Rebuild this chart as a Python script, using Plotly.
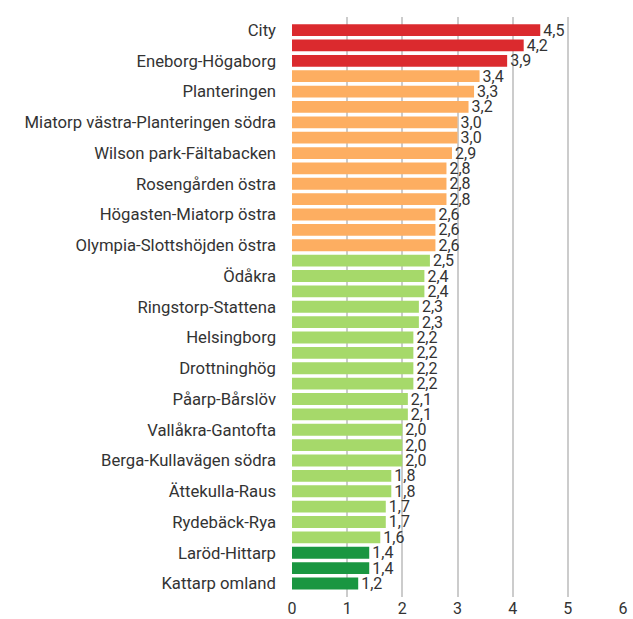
import plotly.graph_objects as go

categories = [
    "City", "Tågaborg", "Eneborg-Högaborg", "Slottshöjden", "Planteringen",
    "Gustavslund", "Miatorp västra-Planteringen södra", "Husensjö",
    "Wilson park-Fältabacken", "Fredriksdal", "Rosengården östra", "Dalhem",
    "Högasten-Miatorp östra", "Närlunda", "Olympia-Slottshöjden östra",
    "Mariastaden", "Ödåkra", "Elineberg", "Ringstorp-Stattena", "Råå",
    "Helsingborg", "Adolfsberg", "Drottninghög", "Gantofta", "Påarp-Bårslöv",
    "Bårslöv", "Vallåkra-Gantofta", "Ödåkra norra", "Berga-Kullavägen södra",
    "Raus", "Ättekulla-Raus", "Rydebäck", "Rydebäck-Rya", "Allerum",
    "Laröd-Hittarp", "Hittarp", "Kattarp omland",
]
values = [
    4.5, 4.2, 3.9, 3.4, 3.3, 3.2, 3.0, 3.0, 2.9, 2.8, 2.8, 2.8, 2.6, 2.6, 2.6,
    2.5, 2.4, 2.4, 2.3, 2.3, 2.2, 2.2, 2.2, 2.2, 2.1, 2.1, 2.0, 2.0, 2.0,
    1.8, 1.8, 1.7, 1.7, 1.6, 1.4, 1.4, 1.2,
]
groups = [0] * 3 + [1] * 12 + [2] * 19 + [3] * 3
group_colors = ["#db2a2e", "#fdae61", "#a6d96a", "#1a9641"]
shown_labels = categories[::2]
x_ticks = [0, 1, 2, 3, 4, 5, 6]

colors = [group_colors[g] for g in groups]
texts = [f"{v:.1f}".replace(".", ",") for v in values]

FONT = "Roboto"
TEXT_COLOR = "#333333"

fig = go.Figure(
    go.Bar(
        x=values,
        y=categories,
        orientation="h",
        marker=dict(color=colors, line=dict(width=0)),
        text=texts,
        textposition="outside",
        constraintext="none",
        textfont=dict(family=FONT, size=16, color=TEXT_COLOR),
        cliponaxis=False,
        hoverinfo="skip",
    )
)

fig.update_layout(
    width=633,
    height=619,
    margin=dict(l=292, r=10, t=17, b=22, autoexpand=False),
    plot_bgcolor="white",
    paper_bgcolor="white",
    bargap=0.23,
    showlegend=False,
    font=dict(family=FONT, size=16, color=TEXT_COLOR),
    xaxis=dict(
        range=[0, 6],
        tickvals=x_ticks,
        ticktext=[str(t) for t in x_ticks],
        showgrid=True,
        gridcolor="#cccccc",
        gridwidth=1.5,
        zeroline=False,
        showline=False,
        ticks="",
        ticklabelstandoff=0,
        tickfont=dict(family=FONT, size=16, color=TEXT_COLOR),
        fixedrange=True,
    ),
    yaxis=dict(
        type="category",
        categoryorder="array",
        categoryarray=categories,
        range=[len(categories) - 1 + 0.88, -0.85],
        tickvals=shown_labels,
        ticktext=shown_labels,
        showgrid=False,
        zeroline=False,
        showline=False,
        ticks="",
        ticklabelstandoff=15,
        tickfont=dict(family=FONT, size=16.7, color=TEXT_COLOR),
        automargin=False,
        fixedrange=True,
    ),
)

fig.write_html(
    "out.html",
    config={"displayModeBar": False},
    post_script="document.body.style.margin='0';document.body.style.overflow='hidden';",
)
